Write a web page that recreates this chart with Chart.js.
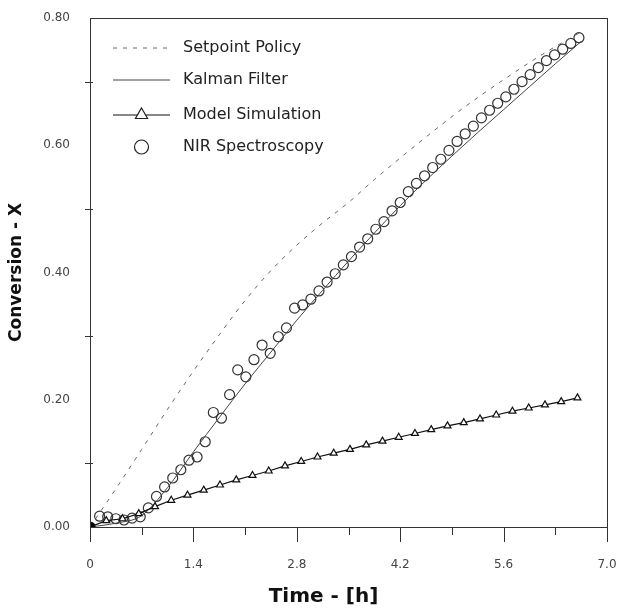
<!DOCTYPE html>
<html>
<head>
<meta charset="utf-8">
<script src="https://cdn.jsdelivr.net/npm/chart.js@4.4.0/dist/chart.umd.min.js"></script>
<style>
  html, body { margin: 0; padding: 0; background: #fff; }
  canvas { display: block; }
</style>
</head>
<body>
<canvas id="chart" width="622" height="612"></canvas>
<script>
// time [h] and conversion X
const setpointTime = [0, 0.35, 0.7, 1.05, 1.4, 1.75, 2.1, 2.45, 2.8, 3.15, 3.5, 3.85, 4.2, 4.55, 4.9, 5.25, 5.6, 5.95, 6.3, 6.65];
const setpointX = [0, 0.06, 0.122, 0.185, 0.245, 0.302, 0.356, 0.403, 0.443, 0.478, 0.51, 0.546, 0.58, 0.613, 0.645, 0.675, 0.703, 0.73, 0.755, 0.778];

const kalmanTime = [0, 0.35, 0.7, 1.05, 1.4, 1.75, 2.1, 2.45, 2.8, 3.15, 3.5, 3.85, 4.2, 4.55, 4.9, 5.25, 5.6, 5.95, 6.3, 6.65];
const kalmanX = [0, 0.006, 0.018, 0.062, 0.118, 0.172, 0.225, 0.275, 0.325, 0.372, 0.418, 0.462, 0.505, 0.545, 0.583, 0.62, 0.656, 0.692, 0.728, 0.763];

const modelTime = [0, 0.22, 0.44, 0.66, 0.88, 1.1, 1.32, 1.54, 1.76, 1.98, 2.2, 2.42, 2.64, 2.86, 3.08, 3.3,
  3.52, 3.74, 3.96, 4.18, 4.4, 4.62, 4.84, 5.06, 5.28, 5.5, 5.72, 5.94, 6.16, 6.38, 6.6];
const modelX = [0, 0.01, 0.013, 0.021, 0.032, 0.042, 0.05, 0.058, 0.066, 0.074, 0.081, 0.088, 0.096, 0.103, 0.11, 0.116,
  0.122, 0.129, 0.135, 0.141, 0.147, 0.153, 0.159, 0.164, 0.17, 0.176, 0.182, 0.187, 0.192, 0.197, 0.203];

const nirTime = [0.13, 0.24, 0.35, 0.46, 0.57, 0.68, 0.79, 0.9, 1.01, 1.12, 1.23, 1.34, 1.45, 1.56, 1.67, 1.78, 1.89, 2.0, 2.11, 2.22,
  2.33, 2.44, 2.55, 2.66, 2.77, 2.88, 2.99, 3.1, 3.21, 3.32, 3.43, 3.54, 3.65, 3.76, 3.87, 3.98, 4.09, 4.2, 4.31, 4.42,
  4.53, 4.64, 4.75, 4.86, 4.97, 5.08, 5.19, 5.3, 5.41, 5.52, 5.63, 5.74, 5.85, 5.96, 6.07, 6.18, 6.29, 6.4, 6.51, 6.62];
const nirX = [0.017, 0.016, 0.013, 0.011, 0.014, 0.016, 0.03, 0.048, 0.063, 0.077, 0.09, 0.105, 0.11, 0.134, 0.18, 0.171, 0.208, 0.247, 0.236, 0.263,
  0.286, 0.273, 0.299, 0.313, 0.344, 0.349, 0.358, 0.371, 0.385, 0.398, 0.412, 0.425, 0.44, 0.453, 0.468, 0.48, 0.497, 0.51, 0.527, 0.54,
  0.552, 0.565, 0.578, 0.592, 0.606, 0.618, 0.63, 0.643, 0.655, 0.666, 0.676, 0.688, 0.7, 0.711, 0.722, 0.733, 0.742, 0.751, 0.76, 0.769];

const xTickLabels = ['0', '1.4', '2.8', '4.2', '5.6', '7.0'];
const yTickLabels = ['0.00', '0.20', '0.40', '0.60', '0.80'];
const seriesNames = ['Setpoint Policy', 'Kalman Filter', 'Model Simulation', 'NIR Spectroscopy'];

const toPoints = (xs, ys) => xs.map((t, i) => ({ x: t, y: ys[i] }));

// frame, tick marks, legend and x title
const decor = {
  id: 'decor',
  afterDraw(chart) {
    const { ctx, chartArea: a, scales: { x, y } } = chart;
    ctx.save();
    ctx.strokeStyle = '#333';
    ctx.lineWidth = 1;
    ctx.strokeRect(a.left + 0.5, a.top + 0.5, a.right - a.left, a.bottom - a.top);

    x.ticks.forEach((t, i) => {
      const px = Math.round(x.getPixelForValue(t.value)) + 0.5;
      const len = i % 2 === 0 ? 15 : 8;
      ctx.beginPath(); ctx.moveTo(px, a.bottom); ctx.lineTo(px, a.bottom + len); ctx.stroke();
    });
    y.ticks.forEach((t, i) => {
      if (i % 2 === 0) return;
      const py = Math.round(y.getPixelForValue(t.value)) + 0.5;
      ctx.beginPath(); ctx.moveTo(a.left - 5, py); ctx.lineTo(a.left + 3, py); ctx.stroke();
    });

    // legend inside the plot
    const rowY = [30, 62, 97, 129];
    const x0 = a.left + 23, x1 = a.left + 80;
    ctx.font = '16px "DejaVu Sans"';
    ctx.textBaseline = 'middle';
    chart.data.datasets.forEach((ds, i) => {
      const ly = a.top + rowY[i];
      if (ds.showLine !== false) {
        ctx.save();
        ctx.strokeStyle = ds.borderColor;
        ctx.lineWidth = ds.borderWidth;
        ctx.setLineDash(ds.borderDash || []);
        ctx.beginPath(); ctx.moveTo(x0, ly); ctx.lineTo(x1, ly); ctx.stroke();
        ctx.restore();
      }
      if (ds.legendRadius) {
        ctx.save();
        ctx.fillStyle = ds.legendFill;
        ctx.strokeStyle = '#222';
        ctx.lineWidth = 1.2;
        Chart.helpers.drawPoint(ctx, { pointStyle: ds.legendStyle, radius: ds.legendRadius, borderWidth: 1.2, rotation: 0 }, (x0 + x1) / 2, ly);
        ctx.restore();
      }
      ctx.fillStyle = '#222';
      ctx.fillText(seriesNames[i], a.left + 93, ly);
    });

    ctx.font = 'bold 20px "DejaVu Sans"';
    ctx.textAlign = 'center';
    ctx.fillStyle = '#111';
    ctx.fillText('Time - [h]', (a.left + a.right) / 2 - 25, 597);
    ctx.restore();
  }
};

new Chart(document.getElementById('chart'), {
  type: 'scatter',
  data: {
    datasets: [
      {
        label: seriesNames[0],
        data: toPoints(setpointTime, setpointX),
        showLine: true, cubicInterpolationMode: 'monotone',
        borderColor: '#666', borderWidth: 1, borderDash: [4, 6],
        pointRadius: 0,
        order: 2
      },
      {
        label: seriesNames[1],
        data: toPoints(kalmanTime, kalmanX),
        showLine: true, cubicInterpolationMode: 'monotone',
        borderColor: '#444', borderWidth: 1,
        pointRadius: 0,
        order: 3
      },
      {
        label: seriesNames[2],
        data: toPoints(modelTime, modelX),
        showLine: true,
        borderColor: '#111', borderWidth: 1.2,
        pointStyle: c => c.dataIndex === 0 ? 'circle' : 'triangle',
        pointRadius: c => c.dataIndex === 0 ? 5 : 4,
        pointBackgroundColor: c => c.dataIndex === 0 ? '#000' : '#fff',
        pointBorderColor: '#111', pointBorderWidth: 1.2,
        legendStyle: 'triangle', legendRadius: 7, legendFill: '#fff',
        order: 1
      },
      {
        label: seriesNames[3],
        data: toPoints(nirTime, nirX),
        showLine: false,
        pointStyle: 'circle', pointRadius: 5,
        pointBackgroundColor: 'rgba(0,0,0,0)',
        pointBorderColor: '#333', pointBorderWidth: 1.2,
        legendStyle: 'circle', legendRadius: 7, legendFill: 'rgba(0,0,0,0)',
        order: 4
      }
    ]
  },
  options: {
    responsive: false,
    animation: false,
    layout: { padding: { top: 18, right: 15, left: 0, bottom: 0 } },
    plugins: { legend: { display: false }, tooltip: { enabled: false } },
    scales: {
      x: {
        type: 'linear', min: 0, max: 7,
        grid: { display: false }, border: { display: false },
        ticks: {
          stepSize: 0.7, padding: 23, color: '#444', maxRotation: 0, autoSkip: false,
          font: { family: 'DejaVu Sans', size: 12 },
          callback: (v, i) => i % 2 === 0 ? xTickLabels[i / 2] : ''
        },
        afterFit: s => { s.height = 85; s.paddingLeft = 0; s.paddingRight = 0; }
      },
      y: {
        min: 0, max: 0.8,
        grid: { display: false }, border: { display: false },
        title: {
          display: true, text: 'Conversion - X', color: '#111',
          font: { family: 'DejaVu Sans', size: 17, weight: 'bold' },
          padding: { top: 6, bottom: 0 }
        },
        ticks: {
          stepSize: 0.1, padding: 12, color: '#444', autoSkip: false,
          font: { family: 'DejaVu Sans', size: 12 },
          callback: (v, i) => i % 2 === 0 ? yTickLabels[i / 2] : ''
        },
        afterFit: s => { s.width = 90; s.paddingTop = 0; s.paddingBottom = 0; }
      }
    }
  },
  plugins: [decor]
});
</script>
</body>
</html>
